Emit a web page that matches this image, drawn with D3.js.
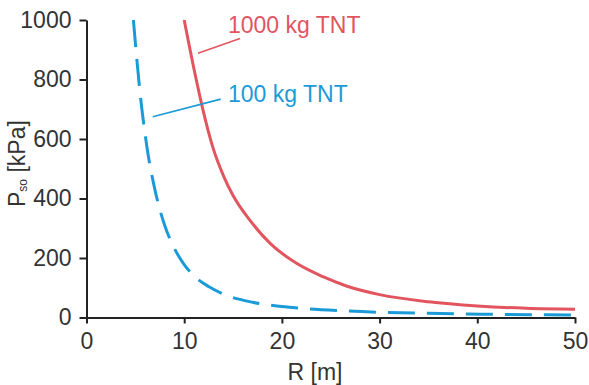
<!DOCTYPE html>
<html>
<head>
<meta charset="utf-8">
<script src="https://cdn.jsdelivr.net/npm/d3@7"></script>
<style>
  body { margin: 0; background: #fff; }
  svg { display: block; font-family: "Liberation Sans", Arial, sans-serif; }
</style>
</head>
<body>
<svg id="chart"></svg>
<script>
// curves (R in m, Pso in kPa)
const r1000 = [10, 11.1, 11.8, 13, 14, 15, 16.7, 18.8, 21.5, 24.2, 26.6, 30, 35, 40, 45, 50];
const p1000 = [1000, 820, 715, 565, 478, 410, 328, 249, 182, 137, 106, 77, 53, 39, 31, 28];

const r100 = [4.8, 5.5, 6.2, 7, 8, 9, 10, 11, 12.5, 14, 17, 20, 26.6, 35, 42, 50];
const p100 = [1000, 750, 570, 430, 310, 232, 178, 140, 104, 79, 51, 37, 22, 14, 10.5, 8];

const xTicks = [0, 10, 20, 30, 40, 50];
const yTicks = [0, 200, 400, 600, 800, 1000];

// label anchors and leader lines, in data units
const labels = [
  { text: "1000 kg TNT", r: 14.48, p: 956, lead: [[11.41, 888], [15.71, 938]], color: "#e2555f" },
  { text: "100 kg TNT", r: 14.48, p: 724, lead: [[6.78, 675], [13.74, 734]], color: "#1a9bd7" }
];

const width = 589, height = 385;
const margin = { top: 20, right: 14, bottom: 67.5, left: 86.5 };

const svg = d3.select("#chart")
  .attr("width", width)
  .attr("height", height);

const x = d3.scaleLinear()
  .domain([0, 50])
  .range([margin.left, width - margin.right]);

const y = d3.scaleLinear()
  .domain([0, 1000])
  .range([height - margin.bottom, margin.top]);

const line = d3.line()
  .x(d => x(d[0]))
  .y(d => y(d[1]))
  .curve(d3.curveMonotoneX);

svg.append("path")
  .datum(d3.zip(r1000, p1000))
  .attr("fill", "none")
  .attr("stroke", "#e2555f")
  .attr("stroke-width", 3)
  .attr("d", line);

svg.append("path")
  .datum(d3.zip(r100, p100))
  .attr("fill", "none")
  .attr("stroke", "#1a9bd7")
  .attr("stroke-width", 3)
  .attr("stroke-dasharray", "27,12")
  .attr("d", line);

labels.forEach(l => {
  svg.append("line")
    .attr("x1", x(l.lead[0][0])).attr("y1", y(l.lead[0][1]))
    .attr("x2", x(l.lead[1][0])).attr("y2", y(l.lead[1][1]))
    .attr("stroke", l.color)
    .attr("stroke-width", 1.6);
  svg.append("text")
    .attr("x", x(l.r))
    .attr("y", y(l.p))
    .attr("fill", l.color)
    .style("font-size", "23px")
    .text(l.text);
});

const xAxis = d3.axisBottom(x)
  .tickValues(xTicks)
  .tickFormat(d3.format("d"))
  .tickSize(6)
  .tickPadding(9)
  .tickSizeOuter(0);

const yAxis = d3.axisLeft(y)
  .tickValues(yTicks)
  .tickFormat(d3.format("d"))
  .tickSize(7)
  .tickPadding(8)
  .tickSizeOuter(0);

const gx = svg.append("g")
  .attr("transform", `translate(0, ${height - margin.bottom})`)
  .call(xAxis);

const gy = svg.append("g")
  .attr("transform", `translate(${margin.left}, 0)`)
  .call(yAxis);

[gx, gy].forEach(g => {
  g.select(".domain").attr("stroke", "#222").attr("stroke-width", 2);
  g.selectAll(".tick line").attr("stroke", "#222").attr("stroke-width", 2);
  g.selectAll(".tick text")
    .attr("fill", "#333")
    .style("font-size", "23px")
    .style("font-family", "Liberation Sans, Arial, sans-serif");
});

svg.append("text")
  .attr("x", 315)
  .attr("y", 380)
  .attr("text-anchor", "middle")
  .attr("fill", "#333")
  .style("font-size", "23px")
  .text("R [m]");

const yt = svg.append("text")
  .attr("transform", "translate(25, 207) rotate(-90)")
  .attr("fill", "#333")
  .style("font-size", "23px");
yt.append("tspan").text("P");
yt.append("tspan").attr("dy", 2).style("font-size", "12px").text("so");
yt.append("tspan").attr("dy", -2).text(" [kPa]");
</script>
</body>
</html>
